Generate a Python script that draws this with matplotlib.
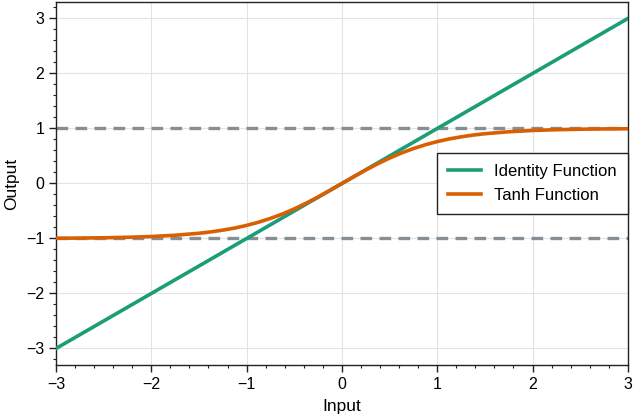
import matplotlib
matplotlib.use('Agg')
import matplotlib.pyplot as plt
from matplotlib.ticker import MultipleLocator

plt.rcParams['font.family'] = ['Liberation Sans', 'DejaVu Sans']
plt.rcParams['font.size'] = 11.5
plt.rcParams['axes.unicode_minus'] = True

# identity line end points
ident_x = [-3.0, 3.0]
ident_y = [-3.0, 3.0]

# tanh curve
tanh_x = [-3.0, -2.75, -2.5, -2.25, -2.0, -1.75, -1.5, -1.375, -1.25, -1.125, -1.0, -0.875, -0.75, -0.625,
          -0.5, -0.375, -0.25, -0.125, 0.0, 0.125, 0.25, 0.375, 0.5, 0.625, 0.75, 0.875, 1.0, 1.125,
          1.25, 1.375, 1.5, 1.75, 2.0, 2.25, 2.5, 2.75, 3.0]
tanh_y = [-0.995, -0.992, -0.987, -0.978, -0.964, -0.941, -0.905, -0.880, -0.848, -0.810, -0.762, -0.704,
          -0.635, -0.555, -0.462, -0.358, -0.245, -0.124, 0.0, 0.124, 0.245, 0.358, 0.462, 0.555, 0.635,
          0.704, 0.762, 0.810, 0.848, 0.880, 0.905, 0.941, 0.964, 0.978, 0.987, 0.992, 0.995]

# dashed asymptotes
asym = [1.0, -1.0]

fig = plt.figure(figsize=(6.34, 4.16), dpi=100)
ax = fig.add_axes([0.0883, 0.1226, 0.902, 0.8726])

ax.grid(True, which='major', color='#e3e3e3', linewidth=0.8)
ax.set_axisbelow(True)

ax.plot(ident_x, ident_y, color='#1b9e77', linewidth=2.6, label='Identity Function', zorder=3)
ax.plot(tanh_x, tanh_y, color='#d95f02', linewidth=2.6, label='Tanh Function', zorder=4,
        solid_joinstyle='round')
for a in asym:
    ax.axhline(a, color='#868e96', linewidth=2.4, linestyle=(0, (3.5, 2.2)), zorder=2)

ax.set_xlim(-3, 3)
ax.set_ylim(-3.3, 3.3)
ax.xaxis.set_major_locator(MultipleLocator(1))
ax.xaxis.set_minor_locator(MultipleLocator(0.2))
ax.yaxis.set_major_locator(MultipleLocator(1))
ax.yaxis.set_minor_locator(MultipleLocator(0.2))
ax.tick_params(which='major', length=5, width=1, direction='out', color='#222222', labelsize=11.5)
ax.tick_params(which='minor', length=2.5, width=0.8, direction='out', color='#222222')
for s in ax.spines.values():
    s.set_color('#222222')
    s.set_linewidth(1)

ax.set_xlabel('Input', fontsize=12.5, labelpad=5)
ax.set_ylabel('Output', fontsize=12.5, labelpad=5)

leg = ax.legend(loc='center right', fancybox=False, edgecolor='#222222', framealpha=1,
                fontsize=12, borderaxespad=0.0, handlelength=2.0, labelspacing=0.55,
                borderpad=0.65)
leg.get_frame().set_linewidth(1)

fig.savefig('out.png', dpi=100)
